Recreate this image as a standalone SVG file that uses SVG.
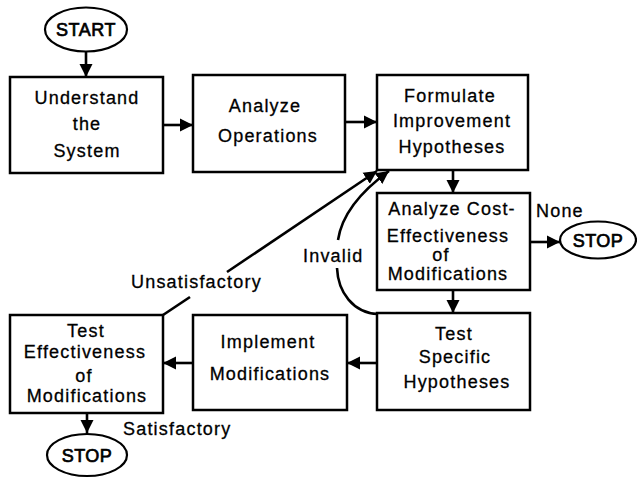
<svg xmlns="http://www.w3.org/2000/svg" width="637" height="478" viewBox="0 0 637 478">
<style>
  .box { fill: #fff; stroke: #000; stroke-width: 2.5; }
  .term { fill: #fff; stroke: #000; stroke-width: 2.2; }
  .t { font-family: "Liberation Sans", Arial, sans-serif; font-size: 18px; letter-spacing: 1.2px; fill: #000; stroke: #000; stroke-width: 0.3; text-anchor: middle; }
  .tb { font-family: "Liberation Sans", Arial, sans-serif; font-size: 18px; letter-spacing: 0.5px; fill: #000; stroke: #000; stroke-width: 0.7; text-anchor: middle; }
  .lbl { font-family: "Liberation Sans", Arial, sans-serif; font-size: 18px; letter-spacing: 1.2px; fill: #000; stroke: #000; stroke-width: 0.3; }
  .c { fill: none; stroke: #000; stroke-width: 2.6; }
</style>
<defs>
  <marker id="ah" markerUnits="userSpaceOnUse" markerWidth="14" markerHeight="14" refX="13" refY="6.5" orient="auto" viewBox="0 0 14 13">
    <path d="M0,0 L13,6.5 L0,13 z" fill="#000"/>
  </marker>
</defs>
<rect width="637" height="478" fill="#fff"/>

<g id="connectors">
  <line class="c" x1="86" y1="51" x2="86" y2="77" marker-end="url(#ah)"/>
  <line class="c" x1="163" y1="125" x2="193" y2="125" marker-end="url(#ah)"/>
  <line class="c" x1="345" y1="122" x2="377" y2="122" marker-end="url(#ah)"/>
  <line class="c" x1="453" y1="170" x2="453" y2="193" marker-end="url(#ah)"/>
  <line class="c" x1="530" y1="242" x2="560" y2="242" marker-end="url(#ah)"/>
  <line class="c" x1="453" y1="290" x2="453" y2="313" marker-end="url(#ah)"/>
  <line class="c" x1="377" y1="363" x2="347" y2="363" marker-end="url(#ah)"/>
  <line class="c" x1="193" y1="363" x2="163" y2="363" marker-end="url(#ah)"/>
  <line class="c" x1="87" y1="413" x2="87" y2="433" marker-end="url(#ah)"/>
  <!-- Unsatisfactory loop -->
  <line class="c" x1="163" y1="315" x2="190" y2="297"/>
  <line class="c" x1="227" y1="272" x2="377" y2="171" marker-end="url(#ah)"/>
  <!-- Invalid loop -->
  <path class="c" d="M378,314 C353,313 338,292 337,268"/>
  <path class="c" d="M338,240 C342,214 360,192 389,171" marker-end="url(#ah)"/>
  <text class="lbl" x="536" y="217">None</text>
  <text class="lbl" x="131" y="288">Unsatisfactory</text>
  <text class="lbl" x="303" y="262">Invalid</text>
  <text class="lbl" x="123" y="435">Satisfactory</text>
</g>

<g id="start">
  <ellipse class="term" cx="86" cy="29.5" rx="41" ry="22"/>
  <text class="tb" x="86" y="36">START</text>
</g>

<g id="understand">
  <rect class="box" x="10" y="77" width="153" height="96"/>
  <text class="t" x="87" y="104">Understand</text>
  <text class="t" x="87" y="130">the</text>
  <text class="t" x="87" y="157">System</text>
</g>

<g id="analyze-ops">
  <rect class="box" x="193" y="75" width="152" height="97"/>
  <text class="t" x="265" y="112">Analyze</text>
  <text class="t" x="268" y="142">Operations</text>
</g>

<g id="formulate">
  <rect class="box" x="377" y="75" width="151" height="95"/>
  <text class="t" x="450" y="102">Formulate</text>
  <text class="t" x="452" y="127">Improvement</text>
  <text class="t" x="452" y="153">Hypotheses</text>
</g>

<g id="analyze-cost">
  <rect class="box" x="377" y="193" width="153" height="97"/>
  <text class="t" x="452" y="215">Analyze Cost-</text>
  <text class="t" x="448" y="242">Effectiveness</text>
  <text class="t" x="441" y="261">of</text>
  <text class="t" x="448" y="280">Modifications</text>
</g>

<g id="stop-none">
  <ellipse class="term" cx="598" cy="240" rx="38" ry="18.5"/>
  <text class="tb" x="598" y="247">STOP</text>
</g>

<g id="test-specific">
  <rect class="box" x="377" y="313" width="153" height="97"/>
  <text class="t" x="454" y="340">Test</text>
  <text class="t" x="455" y="363">Specific</text>
  <text class="t" x="457" y="388">Hypotheses</text>
</g>

<g id="implement">
  <rect class="box" x="193" y="315" width="154" height="95"/>
  <text class="t" x="268" y="348">Implement</text>
  <text class="t" x="270" y="380">Modifications</text>
</g>

<g id="test-effect">
  <rect class="box" x="10" y="315" width="153" height="98"/>
  <text class="t" x="86" y="337">Test</text>
  <text class="t" x="85" y="358">Effectiveness</text>
  <text class="t" x="84" y="382">of</text>
  <text class="t" x="87" y="402">Modifications</text>
</g>

<g id="stop-satisfied">
  <ellipse class="term" cx="87" cy="455" rx="40" ry="21"/>
  <text class="tb" x="87" y="462">STOP</text>
</g>
</svg>
